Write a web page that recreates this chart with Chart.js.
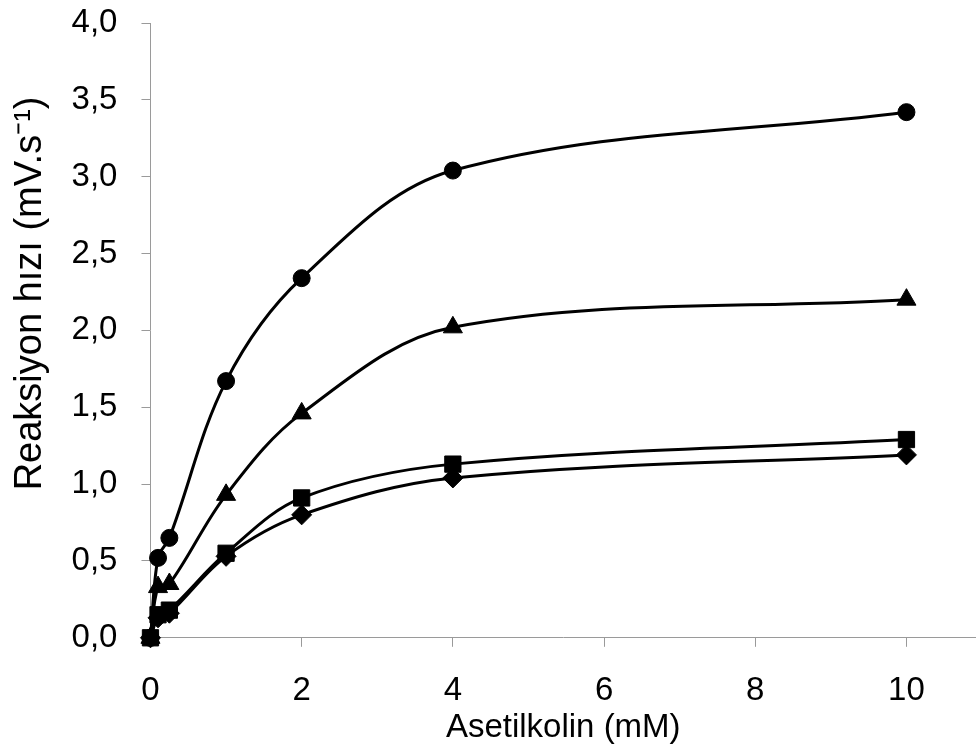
<!DOCTYPE html>
<html>
<head>
<meta charset="utf-8">
<script src="https://cdn.jsdelivr.net/npm/chart.js@4.4.1/dist/chart.umd.min.js"></script>
<style>
  html, body { margin: 0; padding: 0; background: #fff; }
  #wrap { width: 976px; height: 748px; }
</style>
</head>
<body>
<div id="wrap"><canvas id="chart" width="976" height="748"></canvas></div>
<script>
// Asetilkolin concentrations (mM)
const concentrations = [0, 0.1, 0.25, 1, 2, 4, 10];

// Reaction rates (mV/s)
const circleSeries = [0, 0.52, 0.65, 1.67, 2.34, 3.04, 3.42];
const triangleSeries = [0, 0.33, 0.35, 0.93, 1.46, 2.02, 2.20];
const squareSeries = [0, 0.15, 0.18, 0.55, 0.91, 1.13, 1.29];
const diamondSeries = [0, 0.13, 0.16, 0.53, 0.80, 1.04, 1.19];

const xTicks = [0, 2, 4, 6, 8, 10];
const yTicks = [0, 0.5, 1, 1.5, 2, 2.5, 3, 3.5, 4];

const fontFamily = '"Liberation Sans", Arial, sans-serif';
const axisGray = '#9a9a9a';

function toPoints(values) {
    return concentrations.map((x, i) => ({ x: x, y: values[i] }));
}

function makeSeries(label, values, style, radius) {
    return {
        label: label,
        data: toPoints(values),
        borderColor: '#000',
        backgroundColor: '#000',
        borderWidth: 3,
        pointStyle: style,
        pointRadius: radius,
        pointBorderWidth: 1,
        tension: 0.35,
        clip: false
    };
}

const ctx = document.getElementById('chart').getContext('2d');
new Chart(ctx, {
    type: 'line',
    data: {
        datasets: [
            makeSeries('circle', circleSeries, 'circle', 8.5),
            makeSeries('triangle', triangleSeries, 'triangle', 11),
            makeSeries('square', squareSeries, 'rect', 11.5),
            makeSeries('diamond', diamondSeries, 'rectRot', 10)
        ]
    },
    options: {
        responsive: false,
        animation: false,
        layout: {
            autoPadding: false,
            padding: { top: 23, right: 0, bottom: 0, left: 0 }
        },
        plugins: {
            legend: { display: false },
            tooltip: { enabled: false }
        },
        scales: {
            x: {
                type: 'linear',
                min: 0,
                max: 10.92,
                afterBuildTicks: (scale) => {
                    scale.ticks = xTicks.map(v => ({ value: v }));
                },
                afterFit: (scale) => {
                    scale.paddingRight = 0;
                    scale.paddingLeft = 0;
                },
                grid: {
                    drawOnChartArea: false,
                    drawTicks: true,
                    tickLength: 9,
                    color: axisGray
                },
                border: { display: true, color: axisGray, width: 1 },
                ticks: {
                    color: '#000',
                    font: { family: fontFamily, size: 33 },
                    padding: 24,
                    maxRotation: 0
                },
                title: {
                    display: true,
                    text: 'Asetilkolin (mM)',
                    color: '#000',
                    font: { family: fontFamily, size: 33 },
                    padding: { top: -26, bottom: 0 }
                }
            },
            y: {
                type: 'linear',
                min: 0,
                max: 4,
                afterBuildTicks: (scale) => {
                    scale.ticks = yTicks.map(v => ({ value: v }));
                },
                afterFit: (scale) => {
                    scale.paddingTop = 0;
                    scale.paddingBottom = 0;
                },
                grid: {
                    drawOnChartArea: false,
                    drawTicks: true,
                    tickLength: 9,
                    color: axisGray
                },
                border: { display: true, color: axisGray, width: 1 },
                ticks: {
                    color: '#000',
                    font: { family: fontFamily, size: 33 },
                    padding: 24,
                    callback: (v) => Number(v).toFixed(1).replace('.', ',')
                },
                title: {
                    display: true,
                    // leading spaces lift the title like in the original
                    text: '       Reaksiyon hızı (mV.s⁻¹)',
                    color: '#000',
                    font: { family: fontFamily, size: 38 },
                    padding: { top: 8, bottom: -6 }
                }
            }
        }
    }
});
</script>
</body>
</html>
